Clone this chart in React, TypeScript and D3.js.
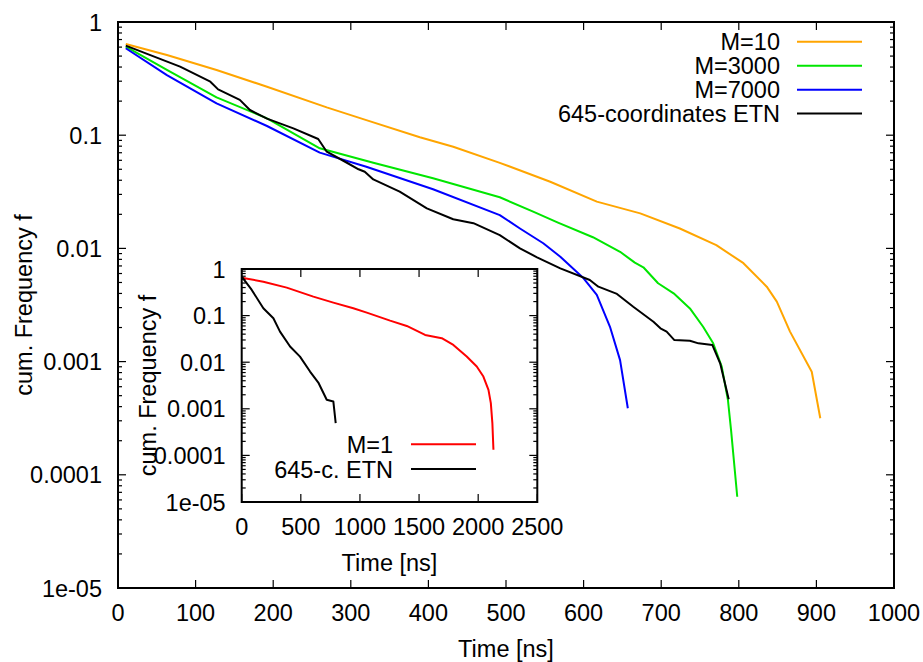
import React from "react";
import * as d3 from "d3";

const W = 923;
const H = 662;

// Main plot data
const orangeT = [10, 63, 127, 192, 269, 320, 389, 432, 492, 557, 617, 673, 724, 771, 806, 836, 849, 866, 894, 905];
const orangeF = [0.64, 0.511, 0.377, 0.268, 0.176, 0.136, 0.0958, 0.079, 0.057, 0.0388, 0.0259, 0.0204, 0.015, 0.0107, 0.0074, 0.00459, 0.00339, 0.00184, 0.000814, 0.000316];

const greenT = [10, 63, 127, 192, 260, 329, 406, 492, 535, 567, 612, 647, 666, 677, 696, 716, 737, 754, 767, 778, 786, 790, 798];
const greenF = [0.605, 0.377, 0.216, 0.141, 0.0766, 0.0571, 0.0416, 0.0283, 0.0211, 0.0169, 0.01255, 0.00934, 0.00748, 0.00681, 0.00492, 0.00401, 0.00295, 0.00203, 0.00145, 0.000902, 0.000458, 0.000249, 0.000064];

const blueT = [10, 63, 127, 192, 260, 320, 406, 492, 518, 548, 570, 600, 617, 634, 647, 657];
const blueF = [0.586, 0.34, 0.191, 0.1206, 0.0701, 0.0527, 0.0333, 0.0197, 0.015, 0.0111, 0.00845, 0.00544, 0.00388, 0.00203, 0.00103, 0.000387];

const blackT = [10, 80, 119, 129, 157, 170, 192, 226, 258, 269, 295, 310, 318, 329, 363, 398, 432, 458, 492, 518, 540, 570, 608, 619, 643, 664, 690, 699, 707, 717, 737, 748, 766, 776, 787];
const blackF = [0.618, 0.403, 0.297, 0.254, 0.205, 0.167, 0.14, 0.115, 0.0925, 0.0715, 0.0571, 0.05, 0.0476, 0.0407, 0.0317, 0.0226, 0.0181, 0.0167, 0.0131, 0.01, 0.00834, 0.00667, 0.00526, 0.00459, 0.00396, 0.00305, 0.00225, 0.00197, 0.00184, 0.00155, 0.00153, 0.00145, 0.0014, 0.000966, 0.000464];

// Inset data
const redT = [0, 183, 381, 606, 775, 944, 1058, 1255, 1396, 1551, 1692, 1790, 1903, 1988, 2044, 2087, 2107, 2120, 2129];
const redF = [0.652, 0.535, 0.398, 0.255, 0.19, 0.1436, 0.116, 0.078, 0.06, 0.0385, 0.0327, 0.0235, 0.0132, 0.00807, 0.00492, 0.00255, 0.00132, 0.000494, 0.000132];

const insetBlackT = [0, 85, 183, 268, 324, 409, 493, 578, 648, 719, 775, 795];
const insetBlackF = [0.685, 0.355, 0.144, 0.0877, 0.0454, 0.0217, 0.0132, 0.0063, 0.00366, 0.00156, 0.00144, 0.000494];

const mainXTicks = [0, 100, 200, 300, 400, 500, 600, 700, 800, 900, 1000];
const insetXTicks = [0, 500, 1000, 1500, 2000, 2500];
const yTicks = [1, 0.1, 0.01, 0.001, 0.0001, 0.00001];
const yTickLabels = ["1", "0.1", "0.01", "0.001", "0.0001", "1e-05"];

const mainSeries = [
  { name: "M=10", color: "#ffa500", t: orangeT, f: orangeF },
  { name: "M=3000", color: "#00e600", t: greenT, f: greenF },
  { name: "M=7000", color: "#0000ff", t: blueT, f: blueF },
  { name: "645-coordinates ETN", color: "#000000", t: blackT, f: blackF },
];
const insetSeries = [
  { name: "M=1", color: "#ff0000", t: redT, f: redF },
  { name: "645-c. ETN", color: "#000000", t: insetBlackT, f: insetBlackF },
];

const FONT = "'Liberation Sans', Arial, Helvetica, sans-serif";
const FS = 23.5;

type Series = { name: string; color: string; t: number[]; f: number[] };

function Panel(props: {
  x0: number; x1: number; y0: number; y1: number;
  xDomain: [number, number]; xTicks: number[];
  series: Series[];
  legendTextX: number; legendLineX0: number; legendLineX1: number; legendY: number[];
}) {
  const { x0, x1, y0, y1, xDomain, xTicks, series } = props;
  const xs = d3.scaleLinear().domain(xDomain).range([x0, x1]);
  const ys = d3.scaleLog().domain([1e-5, 1]).range([y1, y0]);
  const minor: number[] = [];
  for (let e = -5; e < 0; e++) {
    for (let k = 2; k <= 9; k++) minor.push(k * Math.pow(10, e));
  }
  const line = d3
    .line<[number, number]>()
    .x((d) => xs(d[0]))
    .y((d) => ys(d[1]));
  const TL = 8;
  const TM = 4;
  return (
    <g>
      <rect x={x0} y={y0} width={x1 - x0} height={y1 - y0} fill="#fff" />
      {xTicks.map((t) => (
        <g key={"xt" + t}>
          <line x1={xs(t)} x2={xs(t)} y1={y1} y2={y1 - TL} stroke="#000" strokeWidth={1.2} />
          <line x1={xs(t)} x2={xs(t)} y1={y0} y2={y0 + TL} stroke="#000" strokeWidth={1.2} />
          <text x={xs(t)} y={y1 + 33} textAnchor="middle" fontFamily={FONT} fontSize={FS}>
            {String(t)}
          </text>
        </g>
      ))}
      {yTicks.map((v, i) => (
        <g key={"yt" + i}>
          <line x1={x0} x2={x0 + TL} y1={ys(v)} y2={ys(v)} stroke="#000" strokeWidth={1.2} />
          <line x1={x1} x2={x1 - TL} y1={ys(v)} y2={ys(v)} stroke="#000" strokeWidth={1.2} />
          <text x={x0 - 16} y={ys(v) + 8.5} textAnchor="end" fontFamily={FONT} fontSize={FS}>
            {yTickLabels[i]}
          </text>
        </g>
      ))}
      {minor.map((v, i) => (
        <g key={"ym" + i}>
          <line x1={x0} x2={x0 + TM} y1={ys(v)} y2={ys(v)} stroke="#000" strokeWidth={1.2} />
          <line x1={x1} x2={x1 - TM} y1={ys(v)} y2={ys(v)} stroke="#000" strokeWidth={1.2} />
        </g>
      ))}
      {series.map((s) => (
        <path
          key={s.name}
          d={line(s.t.map((t, i) => [t, s.f[i]] as [number, number])) || ""}
          fill="none"
          stroke={s.color}
          strokeWidth={2}
          strokeLinejoin="round"
        />
      ))}
      {series.map((s, i) => (
        <g key={"lg" + s.name}>
          <text x={props.legendTextX} y={props.legendY[i] + 8.5} textAnchor="end" fontFamily={FONT} fontSize={FS}>
            {s.name}
          </text>
          <line x1={props.legendLineX0} x2={props.legendLineX1} y1={props.legendY[i]} y2={props.legendY[i]} stroke={s.color} strokeWidth={2} />
        </g>
      ))}
      <rect x={x0} y={y0} width={x1 - x0} height={y1 - y0} fill="none" stroke="#000" strokeWidth={2} />
      <text x={(x0 + x1) / 2} y={y1 + 69} textAnchor="middle" fontFamily={FONT} fontSize={FS}>
        Time [ns]
      </text>
      <text
        transform={`translate(${x0 - 86},${(y0 + y1) / 2}) rotate(-90)`}
        textAnchor="middle"
        fontFamily={FONT}
        fontSize={FS}
      >
        cum. Frequency f
      </text>
    </g>
  );
}

export default function App() {
  return (
    <svg
      width={W}
      height={H}
      viewBox={`0 0 ${W} ${H}`}
      style={{ position: "absolute", left: 0, top: 0, background: "#fff" }}
    >
      <rect x={0} y={0} width={W} height={H} fill="#fff" />
      <Panel
        x0={118}
        x1={894}
        y0={22}
        y1={588}
        xDomain={[0, 1000]}
        xTicks={mainXTicks}
        series={mainSeries}
        legendTextX={780}
        legendLineX0={797}
        legendLineX1={862}
        legendY={[41.7, 65.7, 89.7, 113.5]}
      />
      <Panel
        x0={241.7}
        x1={537.3}
        y0={269}
        y1={502}
        xDomain={[0, 2500]}
        xTicks={insetXTicks}
        series={insetSeries}
        legendTextX={393}
        legendLineX0={411}
        legendLineX1={476}
        legendY={[444.3, 469]}
      />
    </svg>
  );
}
